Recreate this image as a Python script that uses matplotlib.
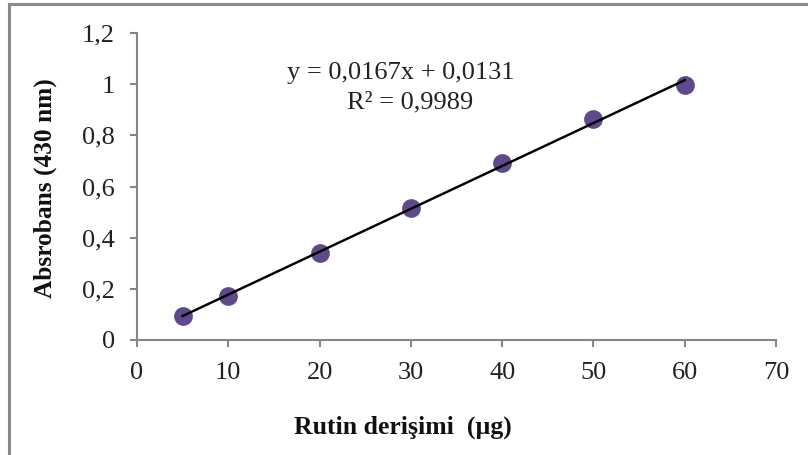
import numpy as np
import matplotlib
matplotlib.use("Agg")
import matplotlib.pyplot as plt
from matplotlib.lines import Line2D
from matplotlib.ticker import FuncFormatter

conc = [5, 10, 20, 30, 40, 50, 60]
absorb = [0.094, 0.172, 0.340, 0.516, 0.692, 0.862, 0.997]
x_ticks = [0, 10, 20, 30, 40, 50, 60, 70]
y_ticks = [0, 0.2, 0.4, 0.6, 0.8, 1.0, 1.2]
eq_text = "y = 0,0167x + 0,0131"
r2_text = "R² = 0,9989"
x_label = "Rutin derişimi  (µg)"
y_label = "Absrobans (430 nm)"

plt.rcParams['font.family'] = ['Liberation Serif', 'DejaVu Serif']

fig = plt.figure(figsize=(8.08, 4.55), dpi=100)
ax = fig.add_axes([137/808, 1-340/455, (776-137)/808, (340-33)/455])

ax.scatter(conc, absorb, s=13.5**2, color='#5E4A8A', zorder=2, linewidths=0)
slope, intercept = np.polyfit(conc, absorb, 1)
xx = np.array([min(conc), max(conc)])
ax.plot(xx, slope*xx + intercept, color='black', lw=1.75, zorder=3)

ax.set_xlim(0, 70)
ax.set_ylim(0, 1.2)
ax.set_xticks(x_ticks)
ax.set_yticks(y_ticks)
ax.xaxis.set_major_formatter(FuncFormatter(lambda v, p: f"{v:g}"))
ax.yaxis.set_major_formatter(FuncFormatter(lambda v, p: f"{v:g}".replace('.', ',')))

spine_c = '#868686'
for s in ['top', 'right']:
    ax.spines[s].set_visible(False)
for s in ['left', 'bottom']:
    ax.spines[s].set_color(spine_c)
    ax.spines[s].set_linewidth(1.5)
ax.tick_params(axis='both', direction='out', length=5, width=1.5, color=spine_c,
               labelsize=19, labelcolor='#222222')
ax.tick_params(axis='y', pad=11)
ax.tick_params(axis='x', pad=11)

fig.text(45/808, 1-188/455, y_label, rotation=90, ha='center', va='center',
         fontsize=18.3, fontweight='bold', color='#111111')
fig.text(403/808, 1-427/455, x_label, ha='center', va='center',
         fontsize=18.5, fontweight='bold', color='#111111')

fig.text(401/808, 1-73/455, eq_text, ha='center', va='center', fontsize=19, color='#222222')
fig.text(410/808, 1-102/455, r2_text, ha='center', va='center', fontsize=19, color='#222222')

fig.add_artist(Line2D([9/808, 9/808], [0, 1-4/455], color='#8a8a8a', lw=2.2, transform=fig.transFigure))
fig.add_artist(Line2D([9/808, 1], [1-4/455, 1-4/455], color='#8a8a8a', lw=2.2, transform=fig.transFigure))

fig.savefig('out.png', dpi=100)
